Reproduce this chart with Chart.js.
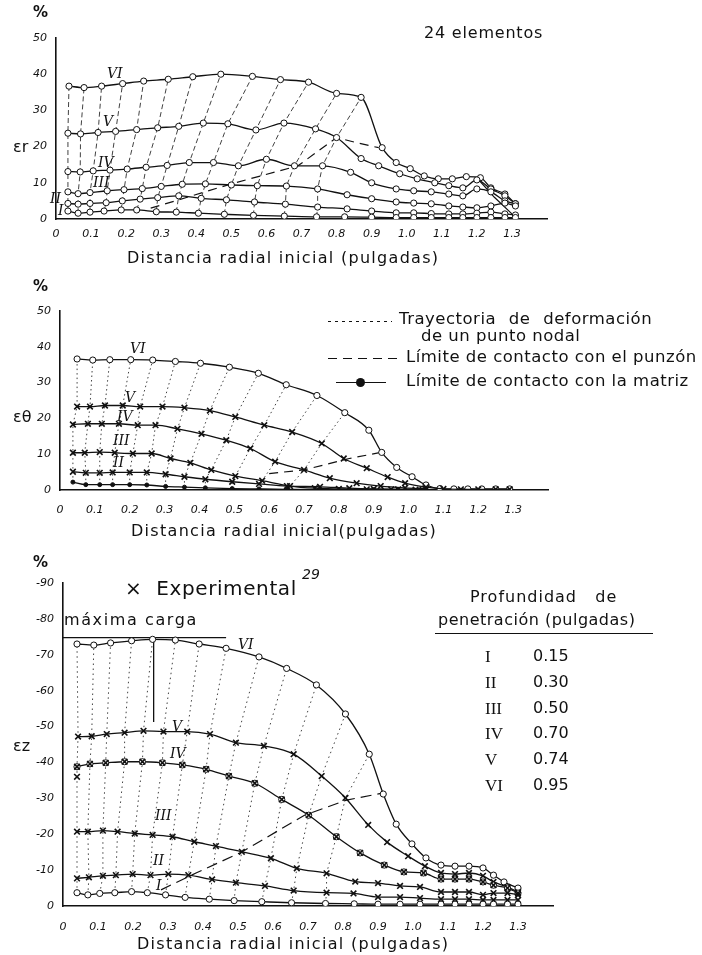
<!DOCTYPE html>
<html lang="es">
<head>
<meta charset="utf-8">
<script src="https://cdn.jsdelivr.net/npm/chart.js@4"></script>
<style>
  body { margin: 0; width: 702px; height: 955px; background: #fff; position: relative; overflow: hidden;
         font-family: "DejaVu Sans", sans-serif; color: #111; }
  canvas { position: absolute; left: 0; }
  .t { position: absolute; white-space: nowrap; line-height: 1; }
  .titulo { font-size: 16px; letter-spacing: 1.3px; }
  .rom { font-style: italic; font-size: 14px; font-family: "DejaVu Serif", serif; }
  .leyenda { font-size: 16.5px; letter-spacing: 0.5px; }
  .muestra { position: absolute; height: 1.4px; }
</style>
</head>
<body>
<canvas id="grafico-er" width="702" height="270" style="top:0"></canvas>
<canvas id="grafico-et" width="702" height="280" style="top:270px"></canvas>
<canvas id="grafico-ez" width="702" height="405" style="top:550px"></canvas>

<!-- textos del grafico superior -->
<div class="t" style="left:33px;top:5px;font-size:15px;font-weight:bold">%</div>
<div class="t" style="left:424px;top:25px;font-size:16px;letter-spacing:0.8px">24 elementos</div>
<div class="t" style="left:13px;top:139px;font-size:16px">εr</div>
<div class="t rom" style="left:107px;top:66px">VI</div>
<div class="t rom" style="left:103px;top:114px">V</div>
<div class="t rom" style="left:98px;top:155px">IV</div>
<div class="t rom" style="left:93px;top:175px">III</div>
<div class="t rom" style="left:50px;top:191px">II</div>
<div class="t rom" style="left:58px;top:203px">I</div>
<div class="t titulo" style="left:127px;top:250px">Distancia radial inicial (pulgadas)</div>

<!-- textos del grafico central -->
<div class="t" style="left:33px;top:279px;font-size:15px;font-weight:bold">%</div>
<div class="t" style="left:13px;top:409px;font-size:16px">εθ</div>
<div class="t rom" style="left:130px;top:341px">VI</div>
<div class="t rom" style="left:125px;top:390px">V</div>
<div class="t rom" style="left:117px;top:409px">IV</div>
<div class="t rom" style="left:113px;top:433px">III</div>
<div class="t rom" style="left:113px;top:455px">II</div>
<div class="t titulo" style="left:131px;top:523px">Distancia radial inicial(pulgadas)</div>

<div class="muestra" style="left:328px;top:321px;width:64px;background:repeating-linear-gradient(90deg,#111 0 3px,transparent 3px 7px)"></div>
<div class="t leyenda" style="left:399px;top:311px;word-spacing:7px">Trayectoria de deformación</div>
<div class="t leyenda" style="left:421px;top:328px">de un punto nodal</div>
<div class="muestra" style="left:328px;top:358px;width:74px;background:repeating-linear-gradient(90deg,#111 0 9px,transparent 9px 15px)"></div>
<div class="t leyenda" style="left:406px;top:349px">Límite de contacto con el punzón</div>
<div class="muestra" style="left:336px;top:382px;width:50px;background:#111"></div>
<div class="t" style="left:356px;top:378px;width:9px;height:9px;border-radius:50%;background:#111"></div>
<div class="t leyenda" style="left:406px;top:373px">Límite de contacto con la matriz</div>

<!-- textos del grafico inferior -->
<div class="t" style="left:33px;top:555px;font-size:15px;font-weight:bold">%</div>
<div class="t" style="left:125px;top:578px;font-size:20px;letter-spacing:0.6px">×&nbsp; Experimental</div>
<div class="t" style="left:302px;top:567px;font-size:14px;font-style:italic">29</div>
<div class="t" style="left:64px;top:612px;font-size:16px;letter-spacing:1.6px">máxima carga</div>
<div class="t" style="left:13px;top:738px;font-size:16px">εz</div>
<div class="t rom" style="left:238px;top:637px">VI</div>
<div class="t rom" style="left:172px;top:719px">V</div>
<div class="t rom" style="left:170px;top:746px">IV</div>
<div class="t rom" style="left:155px;top:808px">III</div>
<div class="t rom" style="left:153px;top:853px">II</div>
<div class="t rom" style="left:156px;top:878px">I</div>
<div class="t titulo" style="left:137px;top:936px">Distancia radial inicial (pulgadas)</div>

<div class="t" style="left:470px;top:589px;font-size:16px;letter-spacing:1px">Profundidad&nbsp;&nbsp; de</div>
<div class="t" style="left:438px;top:612px;font-size:16px;letter-spacing:0.5px">penetración (pulgadas)</div>
<div class="t" style="left:435px;top:633px;width:218px;border-top:1.5px solid #111"></div>
<div id="tabla"></div>

<script>
// Profundidad de penetracion de cada curva (pulgadas)
const nombres = ['I', 'II', 'III', 'IV', 'V', 'VI'];
const profundidades = ['0.15', '0.30', '0.50', '0.70', '0.74', '0.95'];

// Deformacion radial εr (%) - pares [distancia radial inicial, valor]
const er_I = [[0.034,2.2],[0.063,1.6],[0.097,1.9],[0.137,2.2],[0.186,2.5],[0.23,2.5],[0.286,2.0],[0.343,1.9],[0.406,1.6],[0.48,1.3],[0.563,1.0],[0.651,0.8],[0.743,0.6],[0.823,0.6],[0.90,0.5],[0.97,0.4],[1.02,0.4],[1.07,0.4],[1.12,0.4],[1.16,0.4],[1.20,0.4],[1.24,0.4],[1.28,0.4],[1.31,0.4]];
const er_II = [[0.034,4.3],[0.063,4.1],[0.097,4.3],[0.143,4.5],[0.189,5.0],[0.24,5.5],[0.29,5.9],[0.35,6.4],[0.414,5.7],[0.486,5.3],[0.566,4.7],[0.654,4.1],[0.746,3.3],[0.83,2.8],[0.90,2.2],[0.97,1.7],[1.02,1.7],[1.07,1.5],[1.12,1.4],[1.16,1.4],[1.20,1.6],[1.24,1.9],[1.28,1.4],[1.31,1.1]];
const er_III = [[0.034,7.5],[0.063,7.0],[0.097,7.3],[0.146,7.8],[0.194,8.1],[0.246,8.4],[0.30,9.0],[0.36,9.6],[0.426,9.7],[0.50,9.4],[0.574,9.2],[0.657,9.1],[0.746,8.3],[0.83,6.7],[0.90,5.6],[0.97,4.7],[1.02,4.4],[1.07,4.2],[1.12,3.6],[1.16,3.3],[1.20,3.1],[1.24,3.6],[1.28,4.4],[1.31,3.6]];
const er_IV = [[0.034,13.1],[0.069,13.0],[0.106,13.3],[0.154,13.5],[0.203,13.8],[0.257,14.3],[0.317,14.8],[0.38,15.6],[0.449,15.6],[0.52,14.7],[0.60,16.5],[0.68,14.7],[0.76,14.7],[0.84,12.9],[0.90,10.0],[0.97,8.3],[1.02,7.8],[1.07,7.5],[1.12,6.9],[1.16,6.4],[1.20,8.3],[1.24,7.5],[1.28,5.0],[1.31,4.2]];
const er_V = [[0.034,23.7],[0.07,23.5],[0.12,23.9],[0.17,24.2],[0.23,24.7],[0.29,25.2],[0.35,25.6],[0.42,26.5],[0.49,26.3],[0.57,24.6],[0.65,26.5],[0.74,24.9],[0.80,22.5],[0.87,16.7],[0.92,14.7],[0.98,12.5],[1.03,11.1],[1.08,10.0],[1.12,9.2],[1.16,8.6],[1.20,10.8],[1.24,8.3],[1.28,6.4],[1.31,4.2]];
const er_VI = [[0.037,36.7],[0.08,36.3],[0.13,36.7],[0.19,37.4],[0.25,38.1],[0.32,38.6],[0.39,39.3],[0.47,40.0],[0.56,39.4],[0.64,38.5],[0.72,37.8],[0.80,34.7],[0.87,33.6],[0.93,19.7],[0.97,15.6],[1.01,13.9],[1.05,11.9],[1.09,11.1],[1.13,11.1],[1.17,11.7],[1.21,11.4],[1.24,8.6],[1.28,6.9],[1.31,4.2]];
const er_punzon = [[0.27,3.0],[0.35,5.3],[0.50,9.7],[0.69,14.7],[0.80,22.5],[0.86,21.0],[0.92,19.7]];
const er_matriz = [[1.20,11.4],[1.25,6.0],[1.30,1.4]];

// Deformacion circunferencial εθ (%)
const et_I = [[0.037,2.2],[0.074,1.5],[0.114,1.5],[0.151,1.5],[0.20,1.5],[0.249,1.4],[0.303,1.0],[0.357,0.8],[0.417,0.6],[0.494,0.4],[0.571,0.3],[0.651,0.2],[0.746,0.1],[0.83,0.1],[0.90,0.1],[0.97,0.1],[1.04,0.0]];
const et_II = [[0.037,5.1],[0.074,4.8],[0.114,4.8],[0.151,4.9],[0.20,4.9],[0.249,4.9],[0.303,4.4],[0.357,3.7],[0.417,3.0],[0.494,2.3],[0.571,1.7],[0.651,1.1],[0.746,0.9],[0.83,0.5],[0.90,0.3],[0.97,0.2],[1.04,0.1]];
const et_III = [[0.037,10.4],[0.071,10.4],[0.114,10.6],[0.157,10.4],[0.209,10.2],[0.263,10.2],[0.317,8.8],[0.374,7.6],[0.434,5.6],[0.503,3.9],[0.58,2.6],[0.66,1.1],[0.731,0.5],[0.80,0.3],[0.88,0.2],[0.95,0.2],[1.02,0.1]];
const et_IV = [[0.037,18.3],[0.08,18.5],[0.12,18.5],[0.169,18.5],[0.223,18.1],[0.274,18.1],[0.337,17.1],[0.406,15.7],[0.477,13.9],[0.546,11.6],[0.617,7.9],[0.70,5.6],[0.774,3.3],[0.851,1.9],[0.92,1.1],[0.99,0.6],[1.05,0.3]];
const et_V = [[0.049,23.3],[0.086,23.3],[0.129,23.6],[0.18,23.6],[0.23,23.3],[0.294,23.3],[0.357,23.0],[0.43,22.2],[0.503,20.4],[0.586,18.1],[0.666,16.2],[0.751,13.0],[0.814,8.8],[0.88,6.1],[0.94,3.6],[0.99,1.9],[1.05,0.8],[1.10,0.3],[1.15,0.2],[1.20,0.2],[1.25,0.2],[1.29,0.2]];
const et_VI = [[0.049,36.6],[0.094,36.3],[0.143,36.4],[0.203,36.4],[0.266,36.3],[0.331,35.9],[0.403,35.4],[0.486,34.3],[0.569,32.6],[0.649,29.4],[0.737,26.4],[0.817,21.6],[0.886,16.7],[0.923,10.5],[0.966,6.3],[1.01,3.7],[1.05,1.4],[1.09,0.4],[1.13,0.3],[1.17,0.3],[1.21,0.3],[1.25,0.3],[1.29,0.3]];
const et_punzon = [[0.60,4.6],[0.70,5.6],[0.83,8.8],[0.92,10.5]];

// Deformacion axial εz (%)
const ez_I = [[0.04,-3.7],[0.071,-3.1],[0.105,-3.5],[0.148,-3.7],[0.196,-4.0],[0.241,-3.7],[0.293,-3.1],[0.349,-2.4],[0.418,-1.9],[0.489,-1.5],[0.568,-1.2],[0.653,-0.9],[0.75,-0.7],[0.832,-0.6],[0.9,-0.5],[0.963,-0.5],[1.02,-0.5],[1.08,-0.5],[1.12,-0.5],[1.16,-0.5],[1.2,-0.5],[1.23,-0.5],[1.27,-0.5],[1.3,-0.5]];
const ez_II = [[0.04,-7.7],[0.074,-8.0],[0.114,-8.4],[0.151,-8.6],[0.199,-8.9],[0.25,-8.6],[0.301,-8.9],[0.358,-8.6],[0.426,-7.4],[0.494,-6.5],[0.577,-5.6],[0.659,-4.3],[0.753,-3.7],[0.83,-3.5],[0.9,-2.5],[0.963,-2.5],[1.02,-2.2],[1.08,-1.9],[1.12,-1.9],[1.16,-1.9],[1.2,-1.7],[1.23,-1.7],[1.27,-1.7],[1.3,-1.7]];
const ez_III = [[0.04,-20.7],[0.071,-20.7],[0.114,-21.0],[0.156,-20.7],[0.205,-20.2],[0.256,-19.8],[0.313,-19.3],[0.375,-17.9],[0.437,-16.7],[0.511,-15.1],[0.594,-13.3],[0.668,-10.5],[0.753,-9.1],[0.835,-6.8],[0.9,-6.4],[0.963,-5.6],[1.02,-5.3],[1.08,-3.9],[1.12,-3.9],[1.16,-3.9],[1.2,-3.1],[1.23,-3.6],[1.27,-3.6],[1.3,-3.1]];
const ez_IV = [[0.04,-38.8],[0.077,-39.6],[0.122,-39.9],[0.176,-40.2],[0.227,-40.2],[0.284,-39.9],[0.341,-39.3],[0.409,-38.1],[0.474,-36.2],[0.548,-34.2],[0.625,-29.7],[0.702,-25.3],[0.781,-19.3],[0.849,-14.8],[0.918,-11.4],[0.974,-9.5],[1.03,-9.2],[1.08,-7.5],[1.12,-7.5],[1.16,-7.5],[1.2,-6.7],[1.23,-5.8],[1.27,-5.0],[1.3,-3.6]];
const ez_V = [[0.043,-47.2],[0.082,-47.3],[0.125,-47.9],[0.176,-48.3],[0.23,-48.8],[0.287,-48.6],[0.355,-48.6],[0.42,-47.9],[0.494,-45.5],[0.574,-44.6],[0.659,-42.3],[0.739,-36.2],[0.807,-30.1],[0.872,-22.6],[0.926,-17.8],[0.986,-13.9],[1.034,-11.1],[1.08,-9.2],[1.12,-8.9],[1.16,-9.2],[1.2,-8.4],[1.23,-6.7],[1.27,-5.3],[1.3,-3.9]];
const ez_VI = [[0.04,-73.0],[0.088,-72.7],[0.136,-73.3],[0.196,-73.9],[0.256,-74.3],[0.321,-74.1],[0.389,-73.0],[0.466,-71.8],[0.56,-69.4],[0.639,-66.2],[0.724,-61.6],[0.807,-53.5],[0.875,-42.3],[0.915,-31.2],[0.952,-22.8],[0.997,-17.3],[1.037,-13.4],[1.08,-11.4],[1.12,-11.1],[1.16,-11.1],[1.2,-10.6],[1.23,-8.6],[1.26,-6.7],[1.3,-5.0]];
const ez_exp = [[0.04,-36.0]];
const ez_punzon = [[0.28,-4.5],[0.38,-9.2],[0.51,-15.0],[0.69,-25.3],[0.81,-29.5],[0.915,-31.5]];
const ez_cargaH = [[0,-74.8],[0.466,-74.8]];
const ez_cargaV = [[0.259,-74.8],[0.259,-51.3]];

const fuenteTicks = { family: 'DejaVu Sans', size: 11, style: 'italic' };

const aPuntos = (serie) => serie.map(([x, y]) => ({ x, y }));

// Curva de una profundidad con sus marcas
const curva = (serie, marca = 'circle') => ({
  data: aPuntos(serie),
  borderColor: '#111',
  borderWidth: 1.3,
  cubicInterpolationMode: 'monotone',
  pointStyle: marca === 'punto' ? 'circle' : marca,
  pointRadius: marca === 'crossRot' ? 4 : marca === 'punto' ? 2 : 3.1,
  pointBackgroundColor: marca === 'punto' ? '#111' : '#fff',
  pointBorderColor: '#111',
  pointBorderWidth: marca === 'crossRot' ? 1.6 : 1,
  order: 1
});

// Solo marcas (puntos experimentales)
const marcas = (serie) => ({ ...curva(serie, 'crossRot'), showLine: false, order: 0 });

const linea = (serie, dash, ancho = 1) => ({
  data: aPuntos(serie),
  borderColor: '#111',
  borderWidth: ancho,
  borderDash: dash,
  pointRadius: 0,
  order: 3
});

// Trayectoria de cada punto nodal: une el nodo i de las curvas I..VI
const trayectorias = (curvas, n, dash) =>
  Array.from({ length: n }, (_, i) => linea(curvas.map((c) => c[i]), dash, 0.8));

const crearGrafico = (id, eje, datasets) => {
  const canvas = document.querySelector(id);
  return new Chart(canvas, {
    type: 'line',
    data: { datasets },
    options: {
      responsive: false,
      animation: false,
      events: [],
      layout: { padding: { left: 0, right: 702 - eje.derecha, top: eje.arriba, bottom: canvas.height - eje.abajo - 24 } },
      plugins: { legend: { display: false }, tooltip: { enabled: false } },
      scales: {
        x: {
          type: 'linear', min: 0, max: 1.4,
          afterFit: (s) => { s.height = 24; },
          grid: { display: false, drawTicks: false },
          border: { color: '#111', width: 1.6 },
          ticks: {
            stepSize: 0.1, autoSkip: false, maxRotation: 0, padding: eje.padX, color: '#111', font: fuenteTicks,
            callback: (v) => (v > 1.35 ? '' : v === 0 ? '0' : v.toFixed(1))
          }
        },
        y: {
          type: 'linear', min: eje.min, max: eje.max, reverse: !!eje.invertido,
          afterFit: (s) => { s.width = eje.izquierda; },
          grid: { display: false, drawTicks: false },
          border: { color: '#111', width: 1.6 },
          ticks: { stepSize: 10, padding: 9, color: '#111', font: fuenteTicks }
        }
      }
    }
  });
};

const er = [er_I, er_II, er_III, er_IV, er_V, er_VI];
crearGrafico('#grafico-er', { min: 0, max: 50, izquierda: 56, derecha: 547, arriba: 38, abajo: 219, padX: 9 }, [
  ...er.map((c) => curva(c)),
  linea(er_punzon, [9, 6], 1.2),
  linea(er_matriz, [], 1.2),
  ...trayectorias(er, 13, [5, 3])
]);

const et = [et_I, et_II, et_III, et_IV, et_V, et_VI];
crearGrafico('#grafico-et', { min: 0, max: 50, izquierda: 60, derecha: 548, arriba: 41, abajo: 220, padX: 14 }, [
  curva(et_I, 'punto'),
  curva(et_II, 'crossRot'),
  curva(et_III, 'crossRot'),
  curva(et_IV, 'crossRot'),
  curva(et_V, 'crossRot'),
  curva(et_VI),
  linea(et_punzon, [9, 6], 1.2),
  ...trayectorias(et, 12, [1.5, 3])
]);

const ez = [ez_I, ez_II, ez_III, ez_IV, ez_V, ez_VI];
crearGrafico('#grafico-ez', { min: -90, max: 0, invertido: true, izquierda: 63, derecha: 553, arriba: 33, abajo: 356, padX: 15 }, [
  curva(ez_I),
  curva(ez_II, 'crossRot'),
  curva(ez_III, 'crossRot'),
  curva(ez_IV),
  marcas(ez_IV),
  curva(ez_V, 'crossRot'),
  curva(ez_VI),
  marcas(ez_exp),
  linea(ez_punzon, [11, 6], 1.2),
  linea(ez_cargaH, [], 1.3),
  linea(ez_cargaV, [], 1.3),
  ...trayectorias(ez, 13, [1.5, 3.5])
]);

// Tabla de profundidad de penetracion
const tabla = document.querySelector('#tabla');
nombres.forEach((n, i) => {
  const y = 648 + i * 25.8;
  tabla.innerHTML += `<div class="t" style="left:485px;top:${y}px;font-size:17px;font-family:'Liberation Serif',serif">${n}</div>` +
    `<div class="t" style="left:533px;top:${y}px;font-size:16px">${profundidades[i]}</div>`;
});
</script>
</body>
</html>
